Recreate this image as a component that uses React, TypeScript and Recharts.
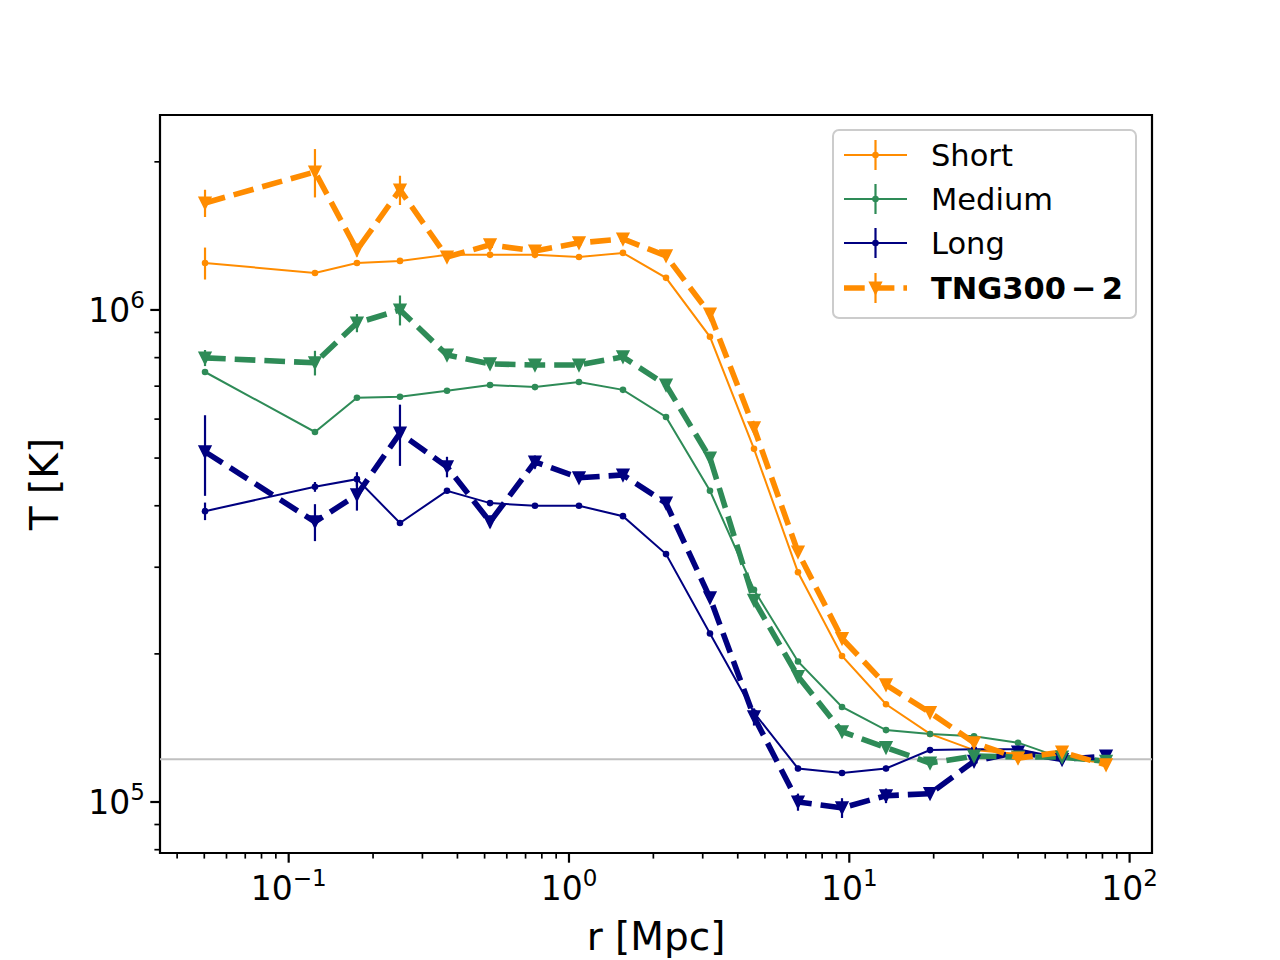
import React from 'react';
import { LineChart, Line, XAxis, YAxis, ErrorBar, ReferenceLine, ReferenceArea } from 'recharts';

// radius bins [Mpc]
const R = [0.0503, 0.1241, 0.1752, 0.2495, 0.3671, 0.5228, 0.7562, 1.0856, 1.558, 2.219, 3.184, 4.571, 6.561, 9.419, 13.52, 19.41, 27.86, 39.99, 57.41, 82.41];

// temperatures [K]
const SHORT = [1.246e6, 1.189e6, 1.246e6, 1.258e6, 1.294e6, 1.294e6, 1.294e6, 1.281e6, 1.306e6, 1.162e6, 8.82e5, 5.22e5, 2.93e5, 1.98e5, 1.58e5, 1.375e5, 1.275e5, 1.252e5, 1.228e5, 1.2e5];
const SHORT_ERR = [9.3e4, 1.2e4, 6e3, 6e3, 5e3, 5e3, 5e3, 5e3, 5e3, 4e3, 3e3, 2e3, 1e3, 1e3, 1e3, 0, 0, 0, 0, 0];
const MEDIUM = [7.48e5, 5.65e5, 6.63e5, 6.66e5, 6.85e5, 7.04e5, 6.97e5, 7.14e5, 6.88e5, 6.06e5, 4.29e5, 2.7e5, 1.93e5, 1.56e5, 1.4e5, 1.375e5, 1.36e5, 1.32e5, 1.228e5, 1.21e5];
const MEDIUM_ERR = [1.0e4, 5e3, 5e3, 5e3, 4e3, 4e3, 4e3, 4e3, 4e3, 3e3, 2e3, 2e3, 1e3, 1e3, 1e3, 0, 0, 0, 0, 0];
const LONG = [3.9e5, 4.37e5, 4.53e5, 3.69e5, 4.29e5, 4.05e5, 4.0e5, 4.0e5, 3.81e5, 3.19e5, 2.2e5, 1.52e5, 1.17e5, 1.145e5, 1.17e5, 1.275e5, 1.28e5, 1.28e5, 1.228e5, 1.22e5];
const LONG_ERR = [1.6e4, 1.0e4, 1.5e4, 5e3, 5e3, 3e3, 3e3, 3e3, 3e3, 2e3, 2e3, 1e3, 1.5e3, 1.5e3, 1.5e3, 1e3, 0, 0, 0, 0];
const TNG_SHORT = [1.65e6, 1.908e6, 1.324e6, 1.754e6, 1.281e6, 1.356e6, 1.318e6, 1.369e6, 1.394e6, 1.288e6, 9.81e5, 5.76e5, 3.22e5, 2.15e5, 1.73e5, 1.52e5, 1.32e5, 1.228e5, 1.263e5, 1.19e5];
const TNG_SHORT_ERR = [1.05e5, 2.15e5, 4.0e4, 1.2e5, 2.0e4, 1.5e4, 1.5e4, 1.5e4, 1.5e4, 1.2e4, 1.0e4, 8e3, 5e3, 3e3, 2e3, 2e3, 1e3, 1e3, 1e3, 1e3];
const TNG_MEDIUM = [7.99e5, 7.81e5, 9.41e5, 1.0e6, 8.1e5, 7.77e5, 7.73e5, 7.73e5, 8.03e5, 7.04e5, 5.0e5, 2.57e5, 1.8e5, 1.39e5, 1.29e5, 1.2e5, 1.24e5, 1.234e5, 1.234e5, 1.21e5];
const TNG_MEDIUM_ERR = [3.0e4, 4.5e4, 4.0e4, 7.0e4, 1.5e4, 1.0e4, 1.0e4, 1.0e4, 1.0e4, 8e3, 6e3, 4e3, 3e3, 2e3, 2e3, 1e3, 1e3, 1e3, 1e3, 1e3];
const TNG_LONG = [5.15e5, 3.71e5, 4.21e5, 5.62e5, 4.8e5, 3.71e5, 4.91e5, 4.56e5, 4.62e5, 4.05e5, 2.6e5, 1.49e5, 1.0e5, 9.73e4, 1.03e5, 1.04e5, 1.21e5, 1.263e5, 1.22e5, 1.24e5];
const TNG_LONG_ERR = [9.6e4, 3.2e4, 3.0e4, 8.0e4, 2.3e4, 1.0e4, 1.5e4, 8e3, 8e3, 8e3, 6e3, 6e3, 4e3, 4.5e3, 3.5e3, 2e3, 2e3, 1e3, 1e3, 1e3];

const X_TICKS = [0.04, 0.05, 0.06, 0.07, 0.08, 0.09, 0.1, 0.2, 0.3, 0.4, 0.5, 0.6, 0.7, 0.8, 0.9, 1, 2, 3, 4, 5, 6, 7, 8, 9, 10, 20, 30, 40, 50, 60, 70, 80, 90, 100];
const Y_TICKS = [8e4, 9e4, 1e5, 2e5, 3e5, 4e5, 5e5, 6e5, 7e5, 8e5, 9e5, 1e6, 2e6];
const X_DOMAIN = [0.03475, 120.2];
const Y_DOMAIN = [7.877e4, 2.49e6];
const BASELINE_T = 1.222e5;

const ORANGE = '#ff8c00';
const GREEN = '#2e8b57';
const NAVY = '#000080';
const FONT = 'DejaVu Sans, sans-serif';

const data = R.map((r, i) => ({
  r,
  short: SHORT[i], shortErr: SHORT_ERR[i],
  medium: MEDIUM[i], mediumErr: MEDIUM_ERR[i],
  long: LONG[i], longErr: LONG_ERR[i],
  tngShort: TNG_SHORT[i], tngShortErr: TNG_SHORT_ERR[i],
  tngMedium: TNG_MEDIUM[i], tngMediumErr: TNG_MEDIUM_ERR[i],
  tngLong: TNG_LONG[i], tngLongErr: TNG_LONG_ERR[i],
}));

const isMajor = (v: number) => Math.abs(Math.log10(v) - Math.round(Math.log10(v))) < 1e-9;
const expLabel = (v: number) => {
  const e = Math.round(Math.log10(v));
  return e < 0 ? '\u2212' + String(-e) : String(e);
};

const XTick = (props: any) => {
  const { x, y, payload } = props;
  const v = payload.value;
  const major = isMajor(v);
  return (
    <g>
      <line x1={x} x2={x} y1={y} y2={y + (major ? 9.7 : 5.6)} stroke="#000" strokeWidth={major ? 2.2 : 1.7} />
      {major && (
        <text x={x} y={y + 47} textAnchor="middle" fontSize={33} fill="#000" fontFamily={FONT}>
          10<tspan dy={-14} fontSize={23}>{expLabel(v)}</tspan>
        </text>
      )}
    </g>
  );
};

const YTick = (props: any) => {
  const { x, y, payload } = props;
  const v = payload.value;
  const major = isMajor(v);
  return (
    <g>
      <line x1={x - (major ? 9.7 : 5.6)} x2={x} y1={y} y2={y} stroke="#000" strokeWidth={major ? 2.2 : 1.7} />
      {major && (
        <text x={x - 15} y={y + 12} textAnchor="end" fontSize={33} fill="#000" fontFamily={FONT}>
          10<tspan dy={-14} fontSize={23}>{expLabel(v)}</tspan>
        </text>
      )}
    </g>
  );
};

const circleDot = (color: string) => (props: any) => {
  const { cx, cy, index } = props;
  if (cx == null || cy == null) return <g key={`c${index}`} />;
  return <circle key={`c${index}`} cx={cx} cy={cy} r={3.3} fill={color} stroke="none" />;
};

const TRI = 11;
const triPoints = (cx: number, cy: number) =>
  `${cx - TRI / 2},${cy - TRI / 2} ${cx + TRI / 2},${cy - TRI / 2} ${cx},${cy + TRI / 2}`;

const triDot = (color: string) => (props: any) => {
  const { cx, cy, index } = props;
  if (cx == null || cy == null) return <g key={`t${index}`} />;
  return <polygon key={`t${index}`} points={triPoints(cx, cy)} fill={color} stroke={color} strokeWidth={2} strokeLinejoin="miter" />;
};

const LEGEND = [
  { label: 'Short', color: ORANGE, dashed: false },
  { label: 'Medium', color: GREEN, dashed: false },
  { label: 'Long', color: NAVY, dashed: false },
  { label: 'TNG300\u2006\u2212\u20062', color: ORANGE, dashed: true },
];

const LegendBox = () => {
  const rowY = [155, 199, 243, 288];
  return (
    <svg width={1280} height={960} style={{ position: 'absolute', left: 0, top: 0, pointerEvents: 'none' }}>
      <rect x={833} y={130} width={303} height={188} rx={6} ry={6} fill="#fff" fillOpacity={0.8} stroke="#cccccc" strokeWidth={2} />
      {LEGEND.map((it, i) => {
        const y = rowY[i];
        return (
          <g key={it.label}>
            <line x1={844} x2={907} y1={y} y2={y} stroke={it.color} strokeWidth={it.dashed ? 5.6 : 2} strokeDasharray={it.dashed ? '20.7 9' : undefined} />
            <line x1={875.5} x2={875.5} y1={y - 15} y2={y + 15} stroke={it.color} strokeWidth={2.2} />
            {it.dashed ? (
              <polygon points={triPoints(875.5, y)} fill={it.color} stroke={it.color} strokeWidth={2} />
            ) : (
              <circle cx={875.5} cy={y} r={3.3} fill={it.color} />
            )}
            <text x={931} y={y + 11} fontSize={30.5} fontFamily={FONT} fontWeight={it.dashed ? 'bold' : 'normal'} fill="#000">
              {it.label}
            </text>
          </g>
        );
      })}
    </svg>
  );
};

export default function App() {
  return (
    <div style={{ position: 'absolute', left: 0, top: 0, width: 1280, height: 960, background: '#fff' }}>
      <LineChart
        width={1280}
        height={960}
        data={data}
        margin={{ top: 115, right: 128, bottom: 7, left: 10 }}
        style={{ fontFamily: FONT }}
      >
        <XAxis
          dataKey="r"
          type="number"
          scale="log"
          domain={X_DOMAIN}
          allowDataOverflow
          ticks={X_TICKS}
          interval={0}
          tick={<XTick />}
          tickLine={false}
          axisLine={false}
          tickSize={0}
          tickMargin={0}
          height={100}
          label={{
            content: () => (
              <text x={656} y={950} textAnchor="middle" fontSize={39} fontFamily={FONT} fill="#000">r [Mpc]</text>
            ),
          }}
        />
        <YAxis
          type="number"
          scale="log"
          domain={Y_DOMAIN}
          allowDataOverflow
          ticks={Y_TICKS}
          interval={0}
          tick={<YTick />}
          tickLine={false}
          axisLine={false}
          tickSize={0}
          tickMargin={0}
          width={150}
          label={{
            content: () => (
              <text x={58} y={484} textAnchor="middle" fontSize={39} fontFamily={FONT} fill="#000" transform="rotate(-90 58 484)">T [K]</text>
            ),
          }}
        />
        <ReferenceLine y={BASELINE_T} stroke="#c0c0c0" strokeWidth={2} ifOverflow="visible" />

        <Line dataKey="short" stroke={ORANGE} strokeWidth={2} dot={circleDot(ORANGE)} activeDot={false} isAnimationActive={false}>
          <ErrorBar dataKey="shortErr" width={0} stroke={ORANGE} strokeWidth={2.2} direction="y" />
        </Line>
        <Line dataKey="medium" stroke={GREEN} strokeWidth={2} dot={circleDot(GREEN)} activeDot={false} isAnimationActive={false}>
          <ErrorBar dataKey="mediumErr" width={0} stroke={GREEN} strokeWidth={2.2} direction="y" />
        </Line>
        <Line dataKey="long" stroke={NAVY} strokeWidth={2} dot={circleDot(NAVY)} activeDot={false} isAnimationActive={false}>
          <ErrorBar dataKey="longErr" width={0} stroke={NAVY} strokeWidth={2.2} direction="y" />
        </Line>
        <Line dataKey="tngLong" stroke={NAVY} strokeWidth={5.6} strokeDasharray="20.7 9" dot={triDot(NAVY)} activeDot={false} isAnimationActive={false}>
          <ErrorBar dataKey="tngLongErr" width={0} stroke={NAVY} strokeWidth={2.2} direction="y" />
        </Line>
        <Line dataKey="tngMedium" stroke={GREEN} strokeWidth={5.6} strokeDasharray="20.7 9" dot={triDot(GREEN)} activeDot={false} isAnimationActive={false}>
          <ErrorBar dataKey="tngMediumErr" width={0} stroke={GREEN} strokeWidth={2.2} direction="y" />
        </Line>
        <Line dataKey="tngShort" stroke={ORANGE} strokeWidth={5.6} strokeDasharray="20.7 9" dot={triDot(ORANGE)} activeDot={false} isAnimationActive={false}>
          <ErrorBar dataKey="tngShortErr" width={0} stroke={ORANGE} strokeWidth={2.2} direction="y" />
        </Line>

        <ReferenceArea
          x1={X_DOMAIN[0]}
          x2={X_DOMAIN[1]}
          y1={Y_DOMAIN[0]}
          y2={Y_DOMAIN[1]}
          fill="none"
          fillOpacity={0}
          stroke="#000"
          strokeWidth={2.2}
          ifOverflow="visible"
        />
      </LineChart>
      <LegendBox />
    </div>
  );
}
